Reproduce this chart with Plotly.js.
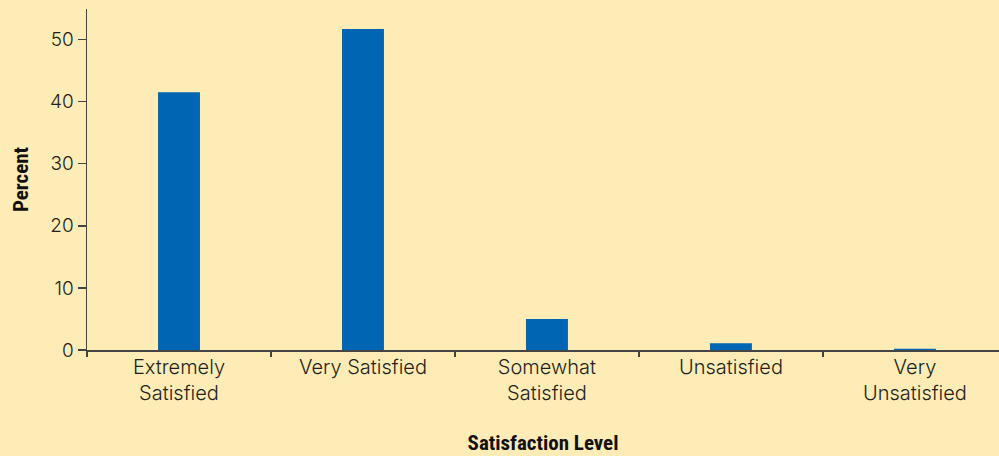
<!DOCTYPE html>
<html><head><meta charset="utf-8">
<script src="https://cdn.plot.ly/plotly-3.0.1.min.js"></script>
<style>html,body{margin:0;padding:0;background:#FEECB6;}#chart{width:999px;height:456px;}</style>
</head><body><div id="chart"></div>
<script>
var categories = ["Extremely<br>Satisfied", "Very Satisfied", "Somewhat<br>Satisfied", "Unsatisfied", "Very<br>Unsatisfied"];
var percents = [41.5, 51.7, 5.0, 1.1, 0.2];
var yTicks = [0, 10, 20, 30, 40, 50];

var trace = {
  type: 'bar',
  x: categories,
  y: percents,
  marker: {color: '#0066B3', line: {width: 0}},
  width: 0.228,
  hoverinfo: 'none'
};

var titleFont = {family: '"Roboto Condensed", "Liberation Sans Narrow", sans-serif', size: 21, weight: 'bold', color: '#111'};

var layout = {
  width: 999, height: 456,
  paper_bgcolor: '#FEECB6', plot_bgcolor: '#FEECB6',
  margin: {l: 87, r: 0, t: 9, b: 106},
  showlegend: false,
  font: {family: 'Inter, Roboto, sans-serif', color: '#231F20', size: 19, weight: 300},
  xaxis: {
    type: 'category',
    range: [-0.5, 4.457],
    ticks: 'outside', ticklen: 5, tickcolor: '#444', tickwidth: 1.5,
    tickson: 'boundaries',
    ticklabelstandoff: -2,
    showline: true, linecolor: '#444', linewidth: 1.5,
    showgrid: false, zeroline: false,
    tickfont: {family: 'Inter, Roboto, sans-serif', size: 20, weight: 300, color: '#231F20'},
    title: {text: 'Satisfaction Level', font: titleFont, standoff: 32}
  },
  yaxis: {
    range: [0, 54.9],
    tickmode: 'array', tickvals: yTicks,
    ticks: 'outside', ticklen: 8, tickcolor: '#444', tickwidth: 1.5,
    showline: true, linecolor: '#444', linewidth: 1.5,
    showgrid: false, zeroline: false,
    tickfont: {family: 'Inter, Roboto, sans-serif', size: 19, weight: 300, color: '#231F20'},
    title: {text: 'Percent', font: titleFont, standoff: 15}
  }
};

Plotly.newPlot('chart', [trace], layout, {displayModeBar: false, staticPlot: true});
</script></body></html>
